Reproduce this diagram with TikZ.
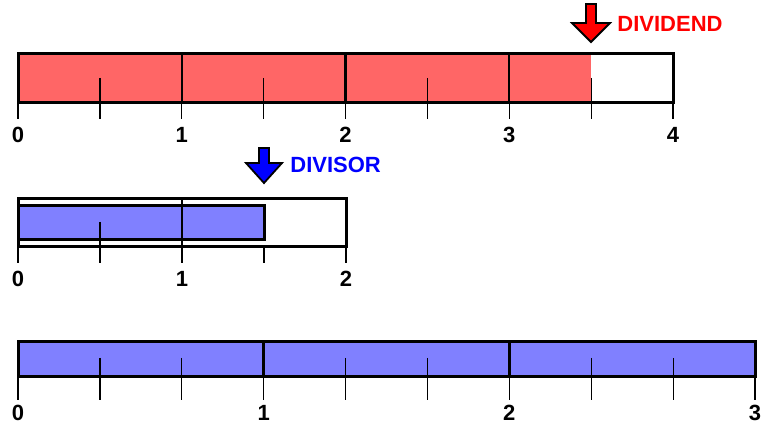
\documentclass[tikz,border=0pt]{standalone}
\usepackage{fontspec}
\setmainfont{Liberation Sans}
\usetikzlibrary{positioning}
\definecolor{dividendfill}{RGB}{255,102,102}
\definecolor{divisorfill}{RGB}{128,128,255}
\definecolor{dividendred}{RGB}{255,0,0}
\definecolor{divisorblue}{RGB}{0,0,255}

\tikzset{
  barbox/.style={draw=black, line width=1.5pt},
  divline/.style={line width=1.2pt},
  tickline/.style={line width=0.6pt},
  numlabel/.style={font=\bfseries\fontsize{11}{13}\selectfont, inner sep=0pt},
  marker/.style={draw=black, line width=0.9pt, line join=miter},
  markertext/.style={font=\bfseries\fontsize{11}{13}\selectfont, inner sep=0pt, anchor=west},
}

\begin{document}
\begin{tikzpicture}[x=0.5pt, y=-0.5pt]
    \useasboundingbox (0,0) rectangle (770,431);

    % Dividend bar (0 to 4)
    \fill[dividendfill] (18,54) rectangle (591,103);
    \foreach \i in {1,2,3} \draw[divline] (18+\i*163.75,54) -- (18+\i*163.75,103);
    \draw[barbox] (18,54) rectangle (673,103);
    \foreach \i in {0,...,4} {
        \draw[tickline] (18+\i*163.75,103) -- (18+\i*163.75,119);
        \node[numlabel] (top\i) at (18+\i*163.75,135) {\i};
    }
    \foreach \i in {0,...,3} \draw[tickline] (99.9+\i*163.75,78) -- (99.9+\i*163.75,119);

    % Dividend marker
    \draw[marker, fill=dividendred] (586,4) -- (596,4) -- (596,23) -- (610,23) -- (591,42) -- (572,23) -- (586,23) -- cycle;
    \node[markertext, text=dividendred] (dividend) at (617,24) {DIVIDEND};

    % Divisor bar (0 to 2)
    \draw[barbox] (18,199) rectangle (346,247);
    \draw[barbox, fill=divisorfill] (18,206) rectangle (264,240);
    \draw[divline] (182,199) -- (182,247);
    \draw[tickline] (100,222) -- (100,263);
    \foreach \x in {18,182,264,346} \draw[tickline] (\x,247) -- (\x,263);
    \node[numlabel] (mid0) at (18,279) {0};
    \node[numlabel] (mid1) at (182,279) {1};
    \node[numlabel] (mid2) at (346,279) {2};

    % Divisor marker
    \draw[marker, fill=divisorblue] (259,148) -- (269,148) -- (269,163) -- (282,163) -- (264,183) -- (246,163) -- (259,163) -- cycle;
    \node[markertext, text=divisorblue] (divisor) at (290,165) {DIVISOR};

    % Quotient bar (0 to 3)
    \fill[divisorfill] (18,342) rectangle (755,377);
    \foreach \i in {1,2} \draw[divline] (18+\i*245.67,342) -- (18+\i*245.67,377);
    \draw[barbox] (18,342) rectangle (755,377);
    \foreach \i in {0,...,3} {
        \draw[tickline] (18+\i*245.67,377) -- (18+\i*245.67,400);
        \node[numlabel] (bot\i) at (18+\i*245.67,413) {\i};
    }
    \foreach \i in {0,1,2} {
        \draw[tickline] (99.9+\i*245.67,358) -- (99.9+\i*245.67,400);
        \draw[tickline] (181.8+\i*245.67,358) -- (181.8+\i*245.67,400);
    }
\end{tikzpicture}
\end{document}
